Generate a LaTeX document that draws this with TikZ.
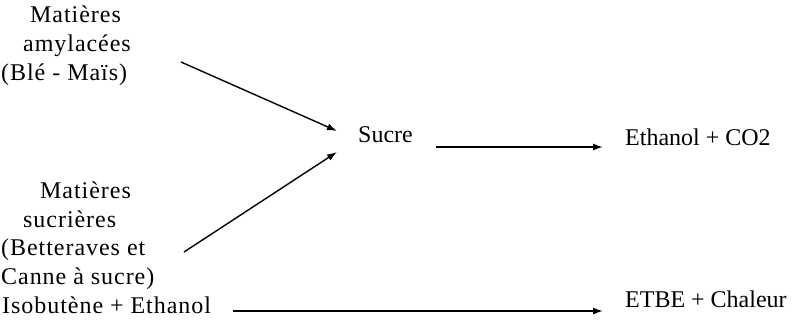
\documentclass[tikz,border=0pt]{standalone}
\usepackage{fontspec}
\setmainfont{Liberation Serif}
\newfontfamily\widefont[LetterSpace=4]{Liberation Serif}
\usetikzlibrary{arrows.meta}
\begin{document}
\begin{tikzpicture}[x=1pt,y=-1pt,
  lbl/.style={anchor=base west,inner sep=0pt,font=\fontsize{24}{28}\selectfont},
  wlbl/.style={lbl,font=\fontsize{24}{28}\widefont},
  flow/.style={line width=1.4pt,-{Latex[length=10pt,width=7pt]}}]
\useasboundingbox (0,0) rectangle (793,322);
% starch feedstocks
\node[wlbl] (a1) at (30,22) {Matières};
\node[wlbl] (a2) at (23,51) {amylacées};
\node[wlbl] (a3) at (1,80) {(Blé - Maïs)};
% sugar feedstocks
\node[wlbl] (b1) at (40,198) {Matières};
\node[wlbl] (b2) at (23,227) {sucrières};
\node[wlbl] (b3) at (1,255) {(Betteraves et};
\node[wlbl] (b4) at (1,284) {Canne à sucre)};
% products
\node[lbl] (s) at (358,142) {Sucre};
\node[lbl] (e) at (625,145) {Ethanol + CO2};
\node[wlbl] (i) at (2,313) {Isobutène + Ethanol};
\node[lbl] (t) at (625,307) {ETBE + Chaleur};
% arrow ends
\coordinate (a0) at (181,62);
\coordinate (b0) at (184,252);
\coordinate (s1) at (337,131);
\coordinate (s2) at (337,152);
\coordinate (s3) at (436,147);
\coordinate (e0) at (603,147);
\coordinate (i0) at (233,311);
\coordinate (t0) at (603,311);
\draw[flow] (a0) -- (s1);
\draw[flow] (b0) -- (s2);
\draw[flow] (s3) -- (e0);
\draw[flow] (i0) -- (t0);
\end{tikzpicture}
\end{document}
